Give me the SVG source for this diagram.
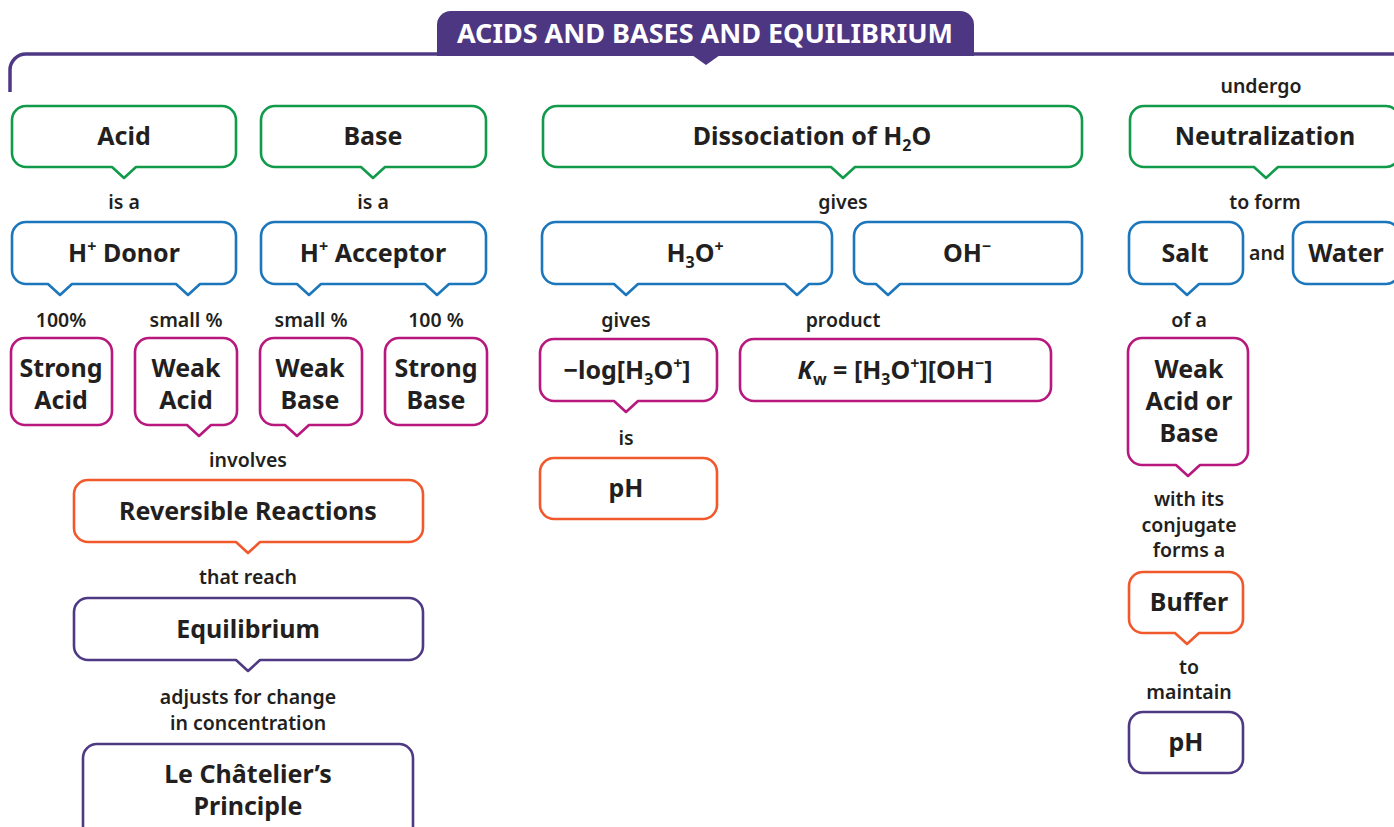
<svg xmlns="http://www.w3.org/2000/svg" width="1394" height="827" viewBox="0 0 1394 827">
<style>
.b{fill:#fff;stroke-width:2.6;stroke-linejoin:round}
.g{stroke:#109a4a}.bl{stroke:#1b76bb}.m{stroke:#b8177d}.o{stroke:#f1582b}.p{stroke:#4f3984}
.n{font-family:"Noto Sans","Liberation Sans",sans-serif;font-weight:700;font-size:25px;fill:#231f20;text-anchor:middle}
.l{font-family:"Noto Sans","Liberation Sans",sans-serif;font-weight:600;font-size:19.5px;fill:#231f20;text-anchor:middle}
.t{font-family:"Noto Sans","Liberation Sans",sans-serif;font-weight:700;font-size:27px;fill:#fff;text-anchor:middle}
.s{font-size:16px}
</style>
<rect width="1394" height="827" fill="#fff"/>
<g id="connectors">
<path d="M10,92 V70 A16,16 0 0 1 26,54 H1394" fill="none" stroke="#4f3984" stroke-width="3.5"/>
<path d="M692,55 L720,55 L706,65 Z" fill="#4d3682"/>
</g>
<g id="title">
<path d="M437,56 V25 A14,14 0 0 1 451,11 H960 A14,14 0 0 1 974,25 V56 Z" fill="#4d3682"/>
<text class="t" x="705" y="43">ACIDS AND BASES AND EQUILIBRIUM</text>
</g>
<g id="labels">
<text class="l" x="1261" y="93">undergo</text>
<text class="l" x="124" y="209">is a</text>
<text class="l" x="373" y="209">is a</text>
<text class="l" x="843" y="209">gives</text>
<text class="l" x="1265" y="209">to form</text>
<text class="l" x="1267" y="260">and</text>
<text class="l" x="61" y="327">100%</text>
<text class="l" x="186" y="327">small %</text>
<text class="l" x="311" y="327">small %</text>
<text class="l" x="436" y="327">100 %</text>
<text class="l" x="626" y="327">gives</text>
<text class="l" x="843" y="327">product</text>
<text class="l" x="1189" y="327">of a</text>
<text class="l" x="626" y="445">is</text>
<text class="l" x="248" y="467">involves</text>
<text class="l" x="248" y="584">that reach</text>
<text class="l" x="248" y="704">adjusts for change</text>
<text class="l" x="248" y="730">in concentration</text>
<text class="l" x="1189" y="506">with its</text>
<text class="l" x="1189" y="532">conjugate</text>
<text class="l" x="1189" y="557">forms a</text>
<text class="l" x="1189" y="674">to</text>
<text class="l" x="1189" y="699">maintain</text>
</g>
<g id="acid">
<path class="b g" d="M26,106 H222 A14,14 0 0 1 236,120 V153 A14,14 0 0 1 222,167 H136 L124,178 L112,167 H26 A14,14 0 0 1 12,153 V120 A14,14 0 0 1 26,106 Z"/>
<text class="n" x="124" y="145">Acid</text>
</g>
<g id="base">
<path class="b g" d="M275,106 H472 A14,14 0 0 1 486,120 V153 A14,14 0 0 1 472,167 H385 L373,178 L361,167 H275 A14,14 0 0 1 261,153 V120 A14,14 0 0 1 275,106 Z"/>
<text class="n" x="373" y="145">Base</text>
</g>
<g id="dissociation">
<path class="b g" d="M557,106 H1068 A14,14 0 0 1 1082,120 V153 A14,14 0 0 1 1068,167 H855 L843,178 L831,167 H557 A14,14 0 0 1 543,153 V120 A14,14 0 0 1 557,106 Z"/>
<text class="n" x="812" y="145">Dissociation of H<tspan class="s" dy="6">2</tspan><tspan dy="-6">O</tspan></text>
</g>
<g id="neutralization">
<path class="b g" d="M1144,106 H1386 A14,14 0 0 1 1400,120 V153 A14,14 0 0 1 1386,167 H1278 L1266,178 L1254,167 H1144 A14,14 0 0 1 1130,153 V120 A14,14 0 0 1 1144,106 Z"/>
<text class="n" x="1265" y="145">Neutralization</text>
</g>
<g id="h-donor">
<path class="b bl" d="M26,222 H222 A14,14 0 0 1 236,236 V270 A14,14 0 0 1 222,284 H200 L188,295 L176,284 H72 L60,295 L48,284 H26 A14,14 0 0 1 12,270 V236 A14,14 0 0 1 26,222 Z"/>
<text class="n" x="124" y="262">H<tspan class="s" dy="-10">+</tspan><tspan dy="10"> Donor</tspan></text>
</g>
<g id="h-acceptor">
<path class="b bl" d="M275,222 H472 A14,14 0 0 1 486,236 V270 A14,14 0 0 1 472,284 H449 L437,295 L425,284 H321 L309,295 L297,284 H275 A14,14 0 0 1 261,270 V236 A14,14 0 0 1 275,222 Z"/>
<text class="n" x="373" y="262">H<tspan class="s" dy="-10">+</tspan><tspan dy="10"> Acceptor</tspan></text>
</g>
<g id="h3o">
<path class="b bl" d="M556,222 H818 A14,14 0 0 1 832,236 V270 A14,14 0 0 1 818,284 H809 L797,295 L785,284 H638 L626,295 L614,284 H556 A14,14 0 0 1 542,270 V236 A14,14 0 0 1 556,222 Z"/>
<text class="n" x="695" y="262">H<tspan class="s" dy="6">3</tspan><tspan dy="-6">O</tspan><tspan class="s" dy="-10">+</tspan></text>
</g>
<g id="oh">
<path class="b bl" d="M868,222 H1068 A14,14 0 0 1 1082,236 V270 A14,14 0 0 1 1068,284 H900 L888,295 L876,284 H868 A14,14 0 0 1 854,270 V236 A14,14 0 0 1 868,222 Z"/>
<text class="n" x="967" y="262">OH<tspan class="s" dy="-10">−</tspan></text>
</g>
<g id="salt">
<path class="b bl" d="M1143,222 H1229 A14,14 0 0 1 1243,236 V270 A14,14 0 0 1 1229,284 H1199 L1187,295 L1175,284 H1143 A14,14 0 0 1 1129,270 V236 A14,14 0 0 1 1143,222 Z"/>
<text class="n" x="1185" y="262">Salt</text>
</g>
<g id="water">
<path class="b bl" d="M1307,222 H1386 A14,14 0 0 1 1400,236 V270 A14,14 0 0 1 1386,284 H1307 A14,14 0 0 1 1293,270 V236 A14,14 0 0 1 1307,222 Z"/>
<text class="n" x="1346" y="262">Water</text>
</g>
<g id="strong-acid">
<rect class="b m" x="11" y="338" width="101" height="87" rx="14"/>
<text class="n" x="61" y="377">Strong</text>
<text class="n" x="61" y="409">Acid</text>
</g>
<g id="weak-acid">
<path class="b m" d="M149,338 H223 A14,14 0 0 1 237,352 V411 A14,14 0 0 1 223,425 H211 L199,436 L187,425 H149 A14,14 0 0 1 135,411 V352 A14,14 0 0 1 149,338 Z"/>
<text class="n" x="186" y="377">Weak</text>
<text class="n" x="186" y="409">Acid</text>
</g>
<g id="weak-base">
<path class="b m" d="M274,338 H348 A14,14 0 0 1 362,352 V411 A14,14 0 0 1 348,425 H309 L297,436 L285,425 H274 A14,14 0 0 1 260,411 V352 A14,14 0 0 1 274,338 Z"/>
<text class="n" x="310" y="377">Weak</text>
<text class="n" x="310" y="409">Base</text>
</g>
<g id="strong-base">
<rect class="b m" x="385" y="338" width="102" height="87" rx="14"/>
<text class="n" x="436" y="377">Strong</text>
<text class="n" x="436" y="409">Base</text>
</g>
<g id="neglog">
<path class="b m" d="M554,339 H703 A14,14 0 0 1 717,353 V387 A14,14 0 0 1 703,401 H638 L626,412 L614,401 H554 A14,14 0 0 1 540,387 V353 A14,14 0 0 1 554,339 Z"/>
<text class="n" x="627" y="379">−log[H<tspan class="s" dy="6">3</tspan><tspan dy="-6">O</tspan><tspan class="s" dy="-10">+</tspan><tspan dy="10">]</tspan></text>
</g>
<g id="kw">
<rect class="b m" x="740" y="339" width="311" height="62" rx="14"/>
<text class="n" x="895" y="379"><tspan font-style="italic">K</tspan><tspan class="s" dy="6">w</tspan><tspan dy="-6"> = [H</tspan><tspan class="s" dy="6">3</tspan><tspan dy="-6">O</tspan><tspan class="s" dy="-10">+</tspan><tspan dy="10">][OH</tspan><tspan class="s" dy="-10">−</tspan><tspan dy="10">]</tspan></text>
</g>
<g id="ph-left">
<rect class="b o" x="540" y="458" width="177" height="61" rx="14"/>
<text class="n" x="626" y="497">pH</text>
</g>
<g id="weak-acid-or-base">
<path class="b m" d="M1142,338 H1234 A14,14 0 0 1 1248,352 V451 A14,14 0 0 1 1234,465 H1200 L1188,476 L1176,465 H1142 A14,14 0 0 1 1128,451 V352 A14,14 0 0 1 1142,338 Z"/>
<text class="n" x="1189" y="378">Weak</text>
<text class="n" x="1189" y="410">Acid or</text>
<text class="n" x="1189" y="442">Base</text>
</g>
<g id="reversible">
<path class="b o" d="M88,480 H409 A14,14 0 0 1 423,494 V528 A14,14 0 0 1 409,542 H260 L248,553 L236,542 H88 A14,14 0 0 1 74,528 V494 A14,14 0 0 1 88,480 Z"/>
<text class="n" x="248" y="520">Reversible Reactions</text>
</g>
<g id="equilibrium">
<path class="b p" d="M88,598 H409 A14,14 0 0 1 423,612 V646 A14,14 0 0 1 409,660 H260 L248,671 L236,660 H88 A14,14 0 0 1 74,646 V612 A14,14 0 0 1 88,598 Z"/>
<text class="n" x="248" y="638">Equilibrium</text>
</g>
<g id="le-chatelier">
<rect class="b p" x="83" y="744" width="330" height="100" rx="14"/>
<text class="n" x="248" y="783">Le Châtelier’s</text>
<text class="n" x="248" y="815">Principle</text>
</g>
<g id="buffer">
<path class="b o" d="M1143,572 H1229 A14,14 0 0 1 1243,586 V619 A14,14 0 0 1 1229,633 H1199 L1187,644 L1175,633 H1143 A14,14 0 0 1 1129,619 V586 A14,14 0 0 1 1143,572 Z"/>
<text class="n" x="1189" y="611">Buffer</text>
</g>
<g id="ph-right">
<rect class="b p" x="1129" y="712" width="114" height="61" rx="14"/>
<text class="n" x="1186" y="751">pH</text>
</g>
</svg>
